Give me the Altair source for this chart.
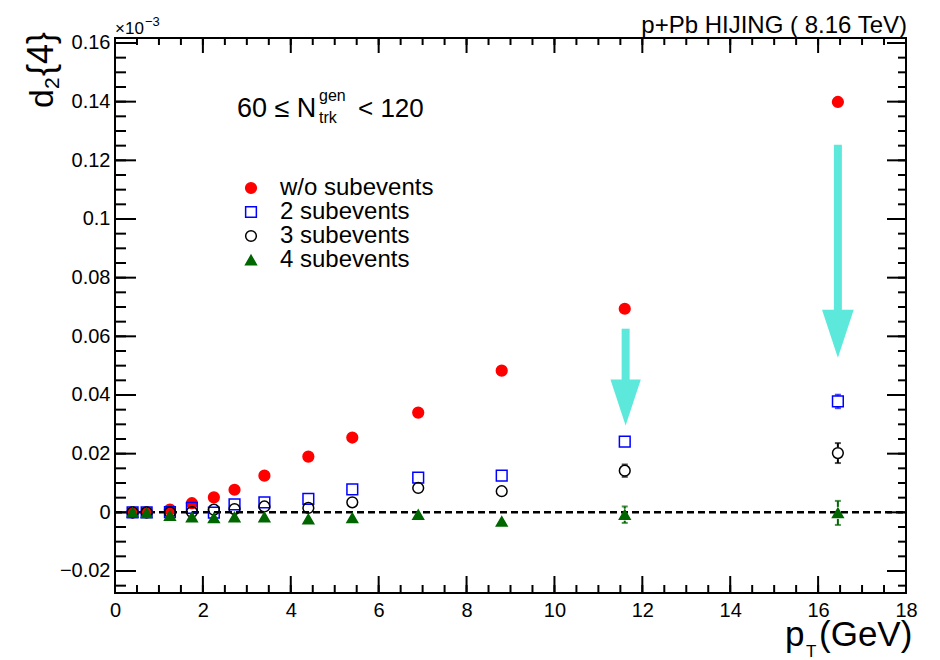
import altair as alt
import pandas as pd

# ---------------- data ----------------
pt = [0.4, 0.72, 1.25, 1.75, 2.25, 2.72, 3.4, 4.4, 5.4, 6.9, 8.8, 11.6, 16.45]
series_names = ["w/o subevents", "2 subevents", "3 subevents", "4 subevents"]
series_colors = ["#FF0000", "#0000FF", "#000000", "#006600"]
d24_wo = [0.0, 0.0, 0.0009, 0.0031, 0.0051, 0.0077, 0.0125, 0.0190, 0.0255, 0.0340, 0.0483, 0.0694, 0.1399]
err_wo = [0.0001, 0.0001, 0.0001, 0.0001, 0.0001, 0.0001, 0.0002, 0.0002, 0.0003, 0.0003, 0.0004, 0.0005, 0.0008]
d24_2s = [0.0, 0.0, 0.0001, 0.0015, -0.0001, 0.0027, 0.0034, 0.0046, 0.0078, 0.0118, 0.0125, 0.0241, 0.0378]
err_2s = [0.0001, 0.0001, 0.0001, 0.0001, 0.0002, 0.0002, 0.0002, 0.0003, 0.0003, 0.0004, 0.0005, 0.0008, 0.0023]
d24_3s = [0.0, 0.0, 0.0, 0.0001, 0.0009, 0.0011, 0.0020, 0.0015, 0.0034, 0.0083, 0.0072, 0.0142, 0.0202]
err_3s = [0.0001, 0.0001, 0.0001, 0.0001, 0.0002, 0.0002, 0.0002, 0.0003, 0.0004, 0.0005, 0.0006, 0.0021, 0.0034]
d24_4s = [0.0, -0.0002, -0.0011, -0.0016, -0.0019, -0.0016, -0.0016, -0.0023, -0.0019, -0.0008, -0.0031, -0.0008, -0.0002]
err_4s = [0.0001, 0.0001, 0.0002, 0.0002, 0.0002, 0.0002, 0.0003, 0.0004, 0.0005, 0.0006, 0.0008, 0.0028, 0.0041]

arrow_x = [11.62, 16.45]
arrow_top = [0.0626, 0.1253]
arrow_head = [0.0374, 0.0609]
arrow_size = [2116, 2304]

x_major = [0, 2, 4, 6, 8, 10, 12, 14, 16, 18]
y_major = [-0.02, 0.0, 0.02, 0.04, 0.06, 0.08, 0.1, 0.12, 0.14, 0.16]
x_minor = [i * 0.5 for i in range(0, 37)]
y_minor = [round(-0.025 + i * 0.005, 4) for i in range(0, 38)]

X_DOM = [0, 18]
Y_DOM = [-0.0275, 0.1617]

rows = []
for name, col, vals, errs in zip(series_names, series_colors,
                                 [d24_wo, d24_2s, d24_3s, d24_4s],
                                 [err_wo, err_2s, err_3s, err_4s]):
    for p, v, e in zip(pt, vals, errs):
        rows.append({"series": name, "col": col, "pt": p, "v": v,
                     "lo": v - e, "hi": v + e, "e": e})
df = pd.DataFrame(rows)
df["order"] = df["series"].map({n: i for i, n in enumerate(series_names)})

arrows = pd.DataFrame({"x": arrow_x, "top": arrow_top, "head": arrow_head, "s": arrow_size})

W, H = 791, 555
FONT = "Liberation Sans"
X0, Y0 = 115, 38
PPX = (X_DOM[1] - X_DOM[0]) / W
PPY = (Y_DOM[1] - Y_DOM[0]) / H
MARK_R = 6 * PPY

xs = alt.Scale(domain=X_DOM, nice=False, zero=False)
ys = alt.Scale(domain=Y_DOM, nice=False, zero=False)

# frame ticks as thin rectangles (bar marks) from the frame edge inward
trows = []
def add_ticks(vals, side, length):
    hw = 1.0
    for v in vals:
        v = float(v)
        if side == "bottom":
            trows.append({"a": v - hw * PPX, "a2": v + hw * PPX, "b": Y_DOM[0], "b2": Y_DOM[0] + length * PPY})
        elif side == "top":
            trows.append({"a": v - hw * PPX, "a2": v + hw * PPX, "b": Y_DOM[1] - length * PPY, "b2": Y_DOM[1]})
        elif side == "left":
            trows.append({"a": X_DOM[0], "a2": X_DOM[0] + length * PPX, "b": v - hw * PPY, "b2": v + hw * PPY})
        else:
            trows.append({"a": X_DOM[1] - length * PPX, "a2": X_DOM[1], "b": v - hw * PPY, "b2": v + hw * PPY})
add_ticks(x_minor, "bottom", 8); add_ticks(x_major, "bottom", 17)
add_ticks(x_minor, "top", 7); add_ticks(x_major, "top", 15)
add_ticks(y_minor, "left", 11); add_ticks(y_major, "left", 21)
add_ticks(y_minor, "right", 8); add_ticks(y_major, "right", 19)
tick_df = pd.DataFrame(trows)

xaxis = alt.Axis(values=x_major, format="~g", labelFlush=False, labelPadding=7,
                 labelFont=FONT, labelFontSize=20, labelColor="black",
                 domain=False, ticks=False, grid=False, title=None)
yaxis = alt.Axis(values=y_major, format="~g", labelPadding=5,
                 labelFont=FONT, labelFontSize=20, labelColor="black",
                 domain=False, ticks=False, grid=False, title=None)

frame_ticks = alt.Chart(tick_df).mark_rect(color="black", opacity=1).encode(
    x=alt.X("a:Q", scale=xs, axis=xaxis), x2="a2:Q",
    y=alt.Y("b:Q", scale=ys, axis=yaxis), y2="b2:Q")

legend = alt.Legend(orient="none", legendX=124, legendY=138,
                    labelFont=FONT, labelFontSize=24, labelColor="black",
                    symbolSize=115, symbolStrokeWidth=1.5, rowPadding=0,
                    padding=0, labelOffset=17, labelLimit=0)
shape_sc = alt.Scale(domain=series_names, range=["circle", "square", "circle", "triangle-up"])
fill_sc = alt.Scale(domain=series_names, range=["#FF0000", "transparent", "transparent", "#006600"])
stroke_sc = alt.Scale(domain=series_names, range=series_colors)

zero_line = alt.Chart(pd.DataFrame({"y": [0.0]})).mark_rule(
    color="black", strokeWidth=2.5, strokeDash=[7, 4]
).encode(y=alt.Y("y:Q", scale=ys), x=alt.value(0), x2=alt.value(W))

base = alt.Chart(df)
err_base = base.transform_filter(f"datum.e > {MARK_R}").transform_calculate(
    up0=f"datum.v + {MARK_R}", dn0=f"datum.v - {MARK_R}")
err_up = err_base.mark_rule(strokeWidth=2).encode(
    x=alt.X("pt:Q", scale=xs), y=alt.Y("up0:Q", scale=ys), y2="hi:Q",
    stroke=alt.Stroke("col:N", scale=None))
err_dn = err_base.mark_rule(strokeWidth=2).encode(
    x=alt.X("pt:Q", scale=xs), y=alt.Y("dn0:Q", scale=ys), y2="lo:Q",
    stroke=alt.Stroke("col:N", scale=None))
caps_lo = err_base.mark_tick(orient="horizontal", size=6, thickness=2).encode(
    x=alt.X("pt:Q", scale=xs), y=alt.Y("lo:Q", scale=ys),
    color=alt.Color("col:N", scale=None))
caps_hi = err_base.mark_tick(orient="horizontal", size=6, thickness=2).encode(
    x=alt.X("pt:Q", scale=xs), y=alt.Y("hi:Q", scale=ys),
    color=alt.Color("col:N", scale=None))

points = base.mark_point(filled=False, size=115, strokeWidth=1.5, opacity=1).encode(
    x=alt.X("pt:Q", scale=xs),
    y=alt.Y("v:Q", scale=ys),
    shape=alt.Shape("series:N", scale=shape_sc, legend=legend, title=None),
    fill=alt.Fill("series:N", scale=fill_sc, legend=legend, title=None),
    stroke=alt.Stroke("series:N", scale=stroke_sc, legend=legend, title=None),
    order=alt.Order("order:Q"),
)

TURQ = "#5CE8DA"
shafts = alt.Chart(arrows).mark_rule(color=TURQ, strokeWidth=8, strokeCap="butt").encode(
    x=alt.X("x:Q", scale=xs), y=alt.Y("top:Q", scale=ys), y2="head:Q")
heads = alt.Chart(arrows).mark_point(filled=True, color=TURQ, opacity=1,
                                     shape="M-0.66,-1L0.66,-1L0,1Z").encode(
    x=alt.X("x:Q", scale=xs), y=alt.Y("head:Q", scale=ys),
    size=alt.Size("s:Q", scale=None))


def label(txt, x, y, size, align="left", angle=0):
    kw = dict(font=FONT, fontSize=size, align=align, baseline="alphabetic", color="black")
    if angle:
        kw["angle"] = angle
    return alt.Chart(pd.DataFrame({"t": [txt]})).mark_text(**kw).encode(
        text="t:N", x=alt.value(x - X0), y=alt.value(y - Y0))


texts = [
    label("p+Pb HIJING ( 8.16 TeV)", 907, 33, 24, align="right"),
    label("×10", 115, 34, 17),
    label("−3", 145, 26, 13),
    label("60 ≤ N", 237, 117, 27),
    label("gen", 319, 101, 16),
    label("trk", 319, 123, 16),
    label("< 120", 358, 117, 26),
    label("p", 785, 646, 35),
    label("T", 806, 657, 17),
    label("(GeV)", 819, 646, 35),
    label("d", 53, 108, 34, angle=270),
    label("2", 59, 89, 21, angle=270),
    label("{4}", 53, 76, 36, angle=270),
]

chart = alt.layer(
    frame_ticks, zero_line, shafts, heads, err_up, err_dn, caps_lo, caps_hi, points, *texts
).properties(
    width=W, height=H,
    padding={"left": X0, "top": Y0, "right": 940 - X0 - W, "bottom": 660 - Y0 - H},
    autosize=alt.AutoSizeParams(type="none"),
    background="white",
).configure_view(stroke="black", strokeWidth=2)

chart.save("out.html", embed_options={"renderer": "svg", "actions": False})
